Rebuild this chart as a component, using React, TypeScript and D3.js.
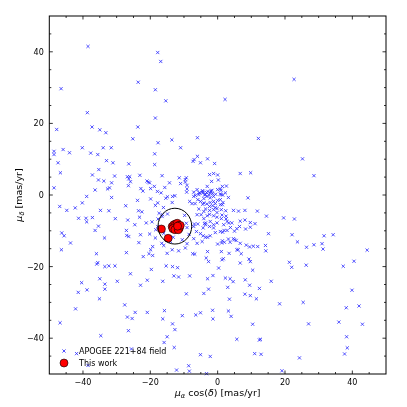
import React from 'react';
import * as d3 from 'd3';

// proper motion of the APOGEE 221+84 field stars [mas/yr]
const fieldPmra = [
  -38.5, -17.8, -16.9, -23.6, -46.5, -18.5, -15.4, -38.7, -18.5, -37.3, -23.7, -47.8, -35.0, -33.2, -25.2, -6.0,
  -13.6, -17.7, -11.0, -40.2, -31.6, -34.0, -45.9, -48.6, -48.6, -44.0, -37.7, -35.6, -18.7, -6.0, -33.0, -47.4,
  -31.1, -18.7, -7.3, -7.0, -5.1, -26.4, -46.7, -35.3, -30.6, -37.2, -23.1, -16.5, -11.4, -26.8, -26.1, -26.4,
  -25.9, -35.4, -33.8, -9.6, -9.3, -20.6, -20.2, -21.0, -48.6, -31.5, -26.5, -22.8, -22.2, -15.7, -14.3, -18.8,
  -19.9, -17.9, -16.8, -9.1, -9.2, -5.5, -32.7, -32.1, -36.4, -38.9, -31.5, -19.9, -14.9, -13.4, -12.7, -15.4,
  22.7, 2.2, 12.1, -3.0, -0.9, 25.2, -2.4, -1.2, 0.0, 6.7, 9.8, 28.6, -1.8, 0.2, -3.1, 1.4,
  2.6, -4.4, -3.3, -4.4, -3.9, 0.0, 0.8, 1.0, -1.5, -1.2, -2.5, 1.5, 3.2, 9.0,
  -23.8, -17.8, -40.2, -46.9, -44.8, -42.3, -34.8, -32.3, -27.3, -23.5, -22.5, -16.1, -17.4, -41.3, -39.1, -38.9,
  -37.2, -30.4, -26.7, -23.2, -21.2, -24.6, -35.4, -36.4, -46.3, -45.6, -27.1, -22.9, -33.6, -43.7, -23.4, -27.0,
  -26.4, -20.2, -18.5, -19.3, -19.9, -16.0, -46.4, -36.0, -27.1, -20.4, -18.4, -17.8, -17.7, -18.5,
  -22.1, -19.3, -15.3, -13.4, -11.9, -35.6, -35.9, -33.5, -32.3, -30.5, -25.9, -40.4, -35.0, -33.5, -29.8, -22.9,
  -20.9, -19.7, -16.3, -13.0, -11.6, -41.4, -38.8, -33.5, -35.1, -42.2, -27.6, -26.8, -25.4, -24.5, -20.9, -15.8,
  -16.3, -13.4, -12.7, -10.5, -6.5, -9.3, -7.4, -46.8, -26.5, -34.7, -15.0, -12.9, -41.9, -25.6, -38.5, -8.6,
  -8.4, -15.9, -12.2, -5.1, -2.2, -3.3, -8.3,
  -4.1, -2.2, -1.2, -0.7, 0.0, 1.6, -3.6, -2.4, -1.2, -0.2, 1.1, 4.7, 6.2, 8.1, 11.8, 14.5,
  19.6, 22.8, -4.9, -4.1, -3.1, -2.4, -1.2, -0.2, 1.3, 2.5, 1.1, 2.5, 6.7, 8.1, 11.1, 9.7,
  6.5, 5.7, -3.9, -3.6, -4.3, -1.2, -0.2, 1.8, 3.3, 3.8, 1.5, 2.8, 5.0, -5.1, -4.3, -3.6,
  -3.0, 4.7, 5.0, 5.5, 15.1, 22.1, 23.7, 26.4, 28.6, 31.0, 31.3, 31.6, 34.3, 44.4, 40.5, 37.3,
  26.3, 21.3, 22.0, 0.0, 1.2, 2.0, 6.1, 7.0, 8.5, 9.5, 10.6, 11.9, 14.2, 14.3, 3.4, -3.0,
  -2.7, -3.4, 1.3, 1.7, 6.7, 9.3, 9.7, 10.4, 0.3, -1.4, -3.0, 2.3, 3.7, 4.6, 8.2, 9.5,
  12.4, 15.9, 3.0, -2.7, -4.1, 3.5, 8.1, 9.7, 11.5, 18.4, 25.4, 39.9, 38.2, 42.0, -5.1, -1.5,
  -1.4, 3.2, 4.0, 10.4, 27.0, 36.0, 43.0, 38.3, 38.5, 5.7, 12.4, 12.7, 37.7, 24.3, 11.0, 12.9,
  19.1,
  -0.6, 0.8, 2.3, -11.0, -9.6, -9.1, -7.1, -6.1, -5.3, -4.5, -2.0, -13.5, -7.1, -6.6, -5.9, -5.1,
  -4.1, -3.2, -2.2, 0.8, -8.3, -7.6, -6.7, -4.4, -3.2, -2.4, -1.5, -0.7, -0.2, 2.4, 1.4, -16.5,
  -5.6, -4.1, -6.1, 4.2, 2.8, 8.3, -6.9, -5.9, -2.4, -1.2, 1.9, -6.3, -2.2, -0.7, 0.8, 1.4,
  3.2, 3.7, 6.7, -6.8, 1.1, 5.7, -7.1, -6.1, -4.6, -9.1, -9.6, -11.6, -13.5, -15.0, -16.6, -16.0,
  -15.0, -14.0,
  -5.6, -3.6, -2.9, -2.2, -1.7, 1.0, 0.8, -3.6, -2.2, 9.7, -7.1,
  -16.4, -14.9, -9.8, -9.3, -9.1, -13.2, -10.5, -8.5, -19.5,
];

const fieldPmdec = [
  41.5, 39.8, 37.3, 31.5, 29.7, 29.4, 26.3, 23.0, 21.5, 19.0, 19.0, 18.3, 18.2, 17.4, 15.7, 16.0,
  15.4, 14.6, 13.2, 13.2, 13.2, 13.2, 12.7, 12.2, 11.3, 11.8, 11.7, 11.3, 11.5, 10.8, 9.6, 9.0,
  9.0, 8.5, 9.4, 9.9, 9.0, 8.7, 6.2, 7.1, 5.3, 5.6, 5.5, 5.4, 4.8, 5.1, 5.1, 4.5,
  3.7, 4.2, 3.9, 4.3, 4.8, 3.6, 3.4, 3.9, 2.0, 3.4, 2.6, 1.8, 1.1, 2.1, 3.4, 2.4,
  1.8, 1.0, 0.6, 1.7, 0.8, 0.6, 1.7, 2.0, 1.4, -0.4, -0.7, -1.1, -0.5, -0.4, -0.2, -0.9,
  32.3, 26.7, 15.8, 10.1, 8.8, 10.1, 5.7, 6.0, 5.6, 6.0, 6.2, 5.4, 3.8, 4.2, 2.4, 2.4,
  2.5, 1.0, 0.7, 0.6, 0.0, 1.5, 1.7, 1.3, 0.4, -0.4, 0.0, 0.0, -0.7, -0.8,
  -1.5, -2.2, -2.2, -3.2, -4.3, -3.6, -4.3, -4.4, -3.0, -4.4, -4.7, -3.5, -5.1, -6.5, -6.5, -7.5,
  -6.3, -6.6, -7.0, -6.2, -7.8, -8.3, -8.7, -9.9, -10.6, -11.4, -9.9, -11.1, -12.0, -13.4, -13.3, -11.3,
  -11.6, -10.9, -12.0, -14.4, -15.3, -14.1, -15.3, -16.4, -16.1, -16.4, -9.7, -8.8, -6.7, -2.9,
  -17.2, -16.9, -19.8, -20.0, -20.3, -18.9, -19.3, -20.0, -19.8, -19.8, -22.0, -24.5, -23.4, -24.9, -24.1, -25.2,
  -23.8, -20.8, -24.1, -22.6, -22.9, -27.2, -26.5, -26.3, -29.0, -31.8, -30.7, -34.1, -34.5, -32.8, -32.8, -32.3,
  -34.6, -36.0, -37.6, -33.7, -33.5, -27.6, -16.4, -35.7, -37.9, -39.3, -39.6, -42.6, -44.3, -43.0, -47.6, -47.7,
  -49.2, -41.2, -48.9, -44.6, -45.1, -49.9, -22.6,
  -2.2, -2.1, -1.8, -2.4, -1.5, -2.1, -3.9, -4.3, -4.1, -4.9, -4.1, -4.3, -4.5, -4.3, -4.5, -5.9,
  -6.4, -6.7, -5.5, -6.6, -5.8, -5.4, -5.8, -6.2, -5.6, -5.9, -6.6, -6.7, -7.3, -7.0, -8.0, -9.0,
  -8.8, -9.4, -8.0, -8.3, -9.2, -9.2, -7.8, -8.3, -7.8, -9.1, -10.4, -9.9, -10.1, -10.8, -11.4, -11.8,
  -11.8, -12.2, -12.5, -12.7, -10.8, -11.1, -13.1, -14.6, -13.9, -13.6, -15.1, -11.4, -11.1, -15.4, -18.5, -19.9,
  -19.6, -18.8, -20.2, -13.7, -13.4, -13.2, -15.3, -16.4, -14.0, -14.5, -14.3, -14.4, -14.1, -15.6, -16.3, -15.8,
  -18.6, -17.6, -18.1, -17.8, -19.0, -17.9, -18.6, -21.0, -20.4, -22.5, -23.4, -23.2, -23.4, -24.2, -23.7, -25.2,
  -26.1, -24.1, -25.8, -26.3, -27.5, -29.1, -27.7, -28.1, -29.0, -30.4, -30.0, -26.6, -31.5, -31.0, -32.9, -32.2,
  -34.6, -32.4, -33.9, -36.1, -36.0, -35.5, -36.1, -39.6, -42.7, -40.3, -40.5, -40.3, -44.4, -45.5, -44.3, -44.5,
  -49.1,
  0.2, 0.3, 0.6, 3.2, 3.6, 2.7, 0.8, 1.5, 0.6, 1.2, 1.1, -2.1, -0.4, -0.1, -1.3, -1.8,
  -1.0, -0.4, -0.8, -1.3, -1.8, -2.4, -2.4, -2.6, -2.5, -3.2, -3.0, -3.5, -3.8, -4.4, -2.7, -6.0,
  -3.9, -4.6, -5.5, -7.8, -7.4, -9.5, -8.1, -8.1, -8.8, -8.3, -9.9, -10.2, -11.4, -10.5, -10.2, -12.8,
  -12.3, -13.2, -13.5, -16.5, -15.8, -15.3, -12.2, -13.5, -13.0, -13.6, -14.8, -15.6, -15.3, -16.3, -13.5, -10.7,
  -12.1, -13.0,
  0.1, 0.1, 1.0, 0.6, 1.3, 0.1, -2.7, -7.8, -7.4, -7.7, -8.8,
  -5.5, -5.3, -5.7, -7.9, -9.1, -11.8, -12.5, -11.0, -7.5,
];

// the stars of this work
const workPmra = [-16.7, -14.7, -13.5, -13.0, -12.5, -12.0, -11.5, -11.4, -12.3, -13.3, -12.7, -11.7, -11.1, -11.9];
const workPmdec = [-9.5, -12.1, -8.8, -8.3, -8.1, -7.9, -8.5, -9.3, -9.3, -9.4, -9.7, -9.7, -8.5, -8.7];

// selection circle
const circleCenter = [-12.7, -8.7];
const circleRadius = 5;

const majorTicks = [-40, -20, 0, 20, 40];
const minorTicks = [-45, -35, -30, -25, -15, -10, -5, 5, 10, 15, 25, 30, 35, 45];

const W = 407;
const H = 407;
const margin = { left: 49.3, right: 21, top: 16, bottom: 33 };
const font = 'DejaVu Sans, sans-serif';

export default function App() {
  const x = d3.scaleLinear().domain([-50, 50]).range([margin.left, W - margin.right]);
  const y = d3.scaleLinear().domain([-50, 50]).range([H - margin.bottom, margin.top]);
  const [x0, x1] = x.range();
  const [y0, y1] = y.range();

  const field = fieldPmra.map((v, i) => [v, fieldPmdec[i]]);
  const work = workPmra.map((v, i) => [v, workPmdec[i]]);
  const cross = 'M-1.6,-1.6L1.6,1.6M-1.6,1.6L1.6,-1.6';
  const fmt = (v: number) => (v < 0 ? '\u2212' + Math.abs(v) : String(v));

  return (
    <div style={{ position: 'fixed', left: 0, top: 0, background: '#fff' }}>
      <svg width={W} height={H} style={{ display: 'block', fontFamily: font }}>
        <rect width={W} height={H} fill="#fff" />

        {/* field stars */}
        <g stroke="#0000ff" strokeWidth={0.8} fill="none" opacity={0.85}>
          {field.map(([a, b], i) => (
            <path key={i} d={cross} transform={`translate(${x(a)},${y(b)})`} />
          ))}
        </g>

        {/* this work */}
        <g>
          {work.map(([a, b], i) => (
            <circle key={i} cx={x(a)} cy={y(b)} r={4} fill="#ff0000" stroke="#000" strokeWidth={0.6} />
          ))}
        </g>

        <ellipse
          cx={x(circleCenter[0])}
          cy={y(circleCenter[1])}
          rx={x(circleCenter[0] + circleRadius) - x(circleCenter[0])}
          ry={y(circleCenter[1]) - y(circleCenter[1] + circleRadius)}
          fill="none"
          stroke="#000"
          strokeWidth={1}
        />

        {/* ticks, inward on all four sides */}
        <g stroke="#000" strokeWidth={0.8}>
          {majorTicks.map((t) => (
            <g key={'M' + t}>
              <line x1={x(t)} x2={x(t)} y1={y0} y2={y0 - 3.5} />
              <line x1={x(t)} x2={x(t)} y1={y1} y2={y1 + 3.5} />
              <line x1={x0} x2={x0 + 3.5} y1={y(t)} y2={y(t)} />
              <line x1={x1} x2={x1 - 3.5} y1={y(t)} y2={y(t)} />
            </g>
          ))}
          {minorTicks.map((t) => (
            <g key={'m' + t}>
              <line x1={x(t)} x2={x(t)} y1={y0} y2={y0 - 2} />
              <line x1={x(t)} x2={x(t)} y1={y1} y2={y1 + 2} />
              <line x1={x0} x2={x0 + 2} y1={y(t)} y2={y(t)} />
              <line x1={x1} x2={x1 - 2} y1={y(t)} y2={y(t)} />
            </g>
          ))}
        </g>

        <rect x={x0} y={y1} width={x1 - x0} height={y0 - y1} fill="none" stroke="#000" strokeWidth={1} />

        {/* tick labels */}
        <g fontSize={8} fill="#000">
          {majorTicks.map((t) => (
            <text key={'xl' + t} x={x(t)} y={y0 + 10.5} textAnchor="middle">{fmt(t)}</text>
          ))}
          {majorTicks.map((t) => (
            <text key={'yl' + t} x={x0 - 5.5} y={y(t) + 3} textAnchor="end">{fmt(t)}</text>
          ))}
        </g>

        {/* axis labels */}
        <text x={(x0 + x1) / 2} y={H - 11} textAnchor="middle" fontSize={9.5} fill="#000">
          <tspan fontStyle="italic">μ</tspan>
          <tspan fontStyle="italic" fontSize={6.7} dy={2}>α</tspan>
          <tspan dy={-2}> cos(</tspan>
          <tspan fontStyle="italic">δ</tspan>
          <tspan>) [mas/yr]</tspan>
        </text>
        <text transform={`translate(22,${(y0 + y1) / 2}) rotate(-90)`} textAnchor="middle" fontSize={9.5} fill="#000">
          <tspan fontStyle="italic">μ</tspan>
          <tspan fontStyle="italic" fontSize={6.7} dy={2}>δ</tspan>
          <tspan dy={-2}> [mas/yr]</tspan>
        </text>

        {/* legend */}
        <g fontSize={8} fill="#000">
          <path d={cross} transform={`translate(64,351)`} stroke="#0000ff" strokeWidth={0.8} fill="none" opacity={0.85} />
          <text x={79} y={354}>APOGEE 221+84 field</text>
          <circle cx={64} cy={363} r={4} fill="#ff0000" stroke="#000" strokeWidth={0.6} />
          <text x={79} y={366}>This work</text>
        </g>
      </svg>
    </div>
  );
}
